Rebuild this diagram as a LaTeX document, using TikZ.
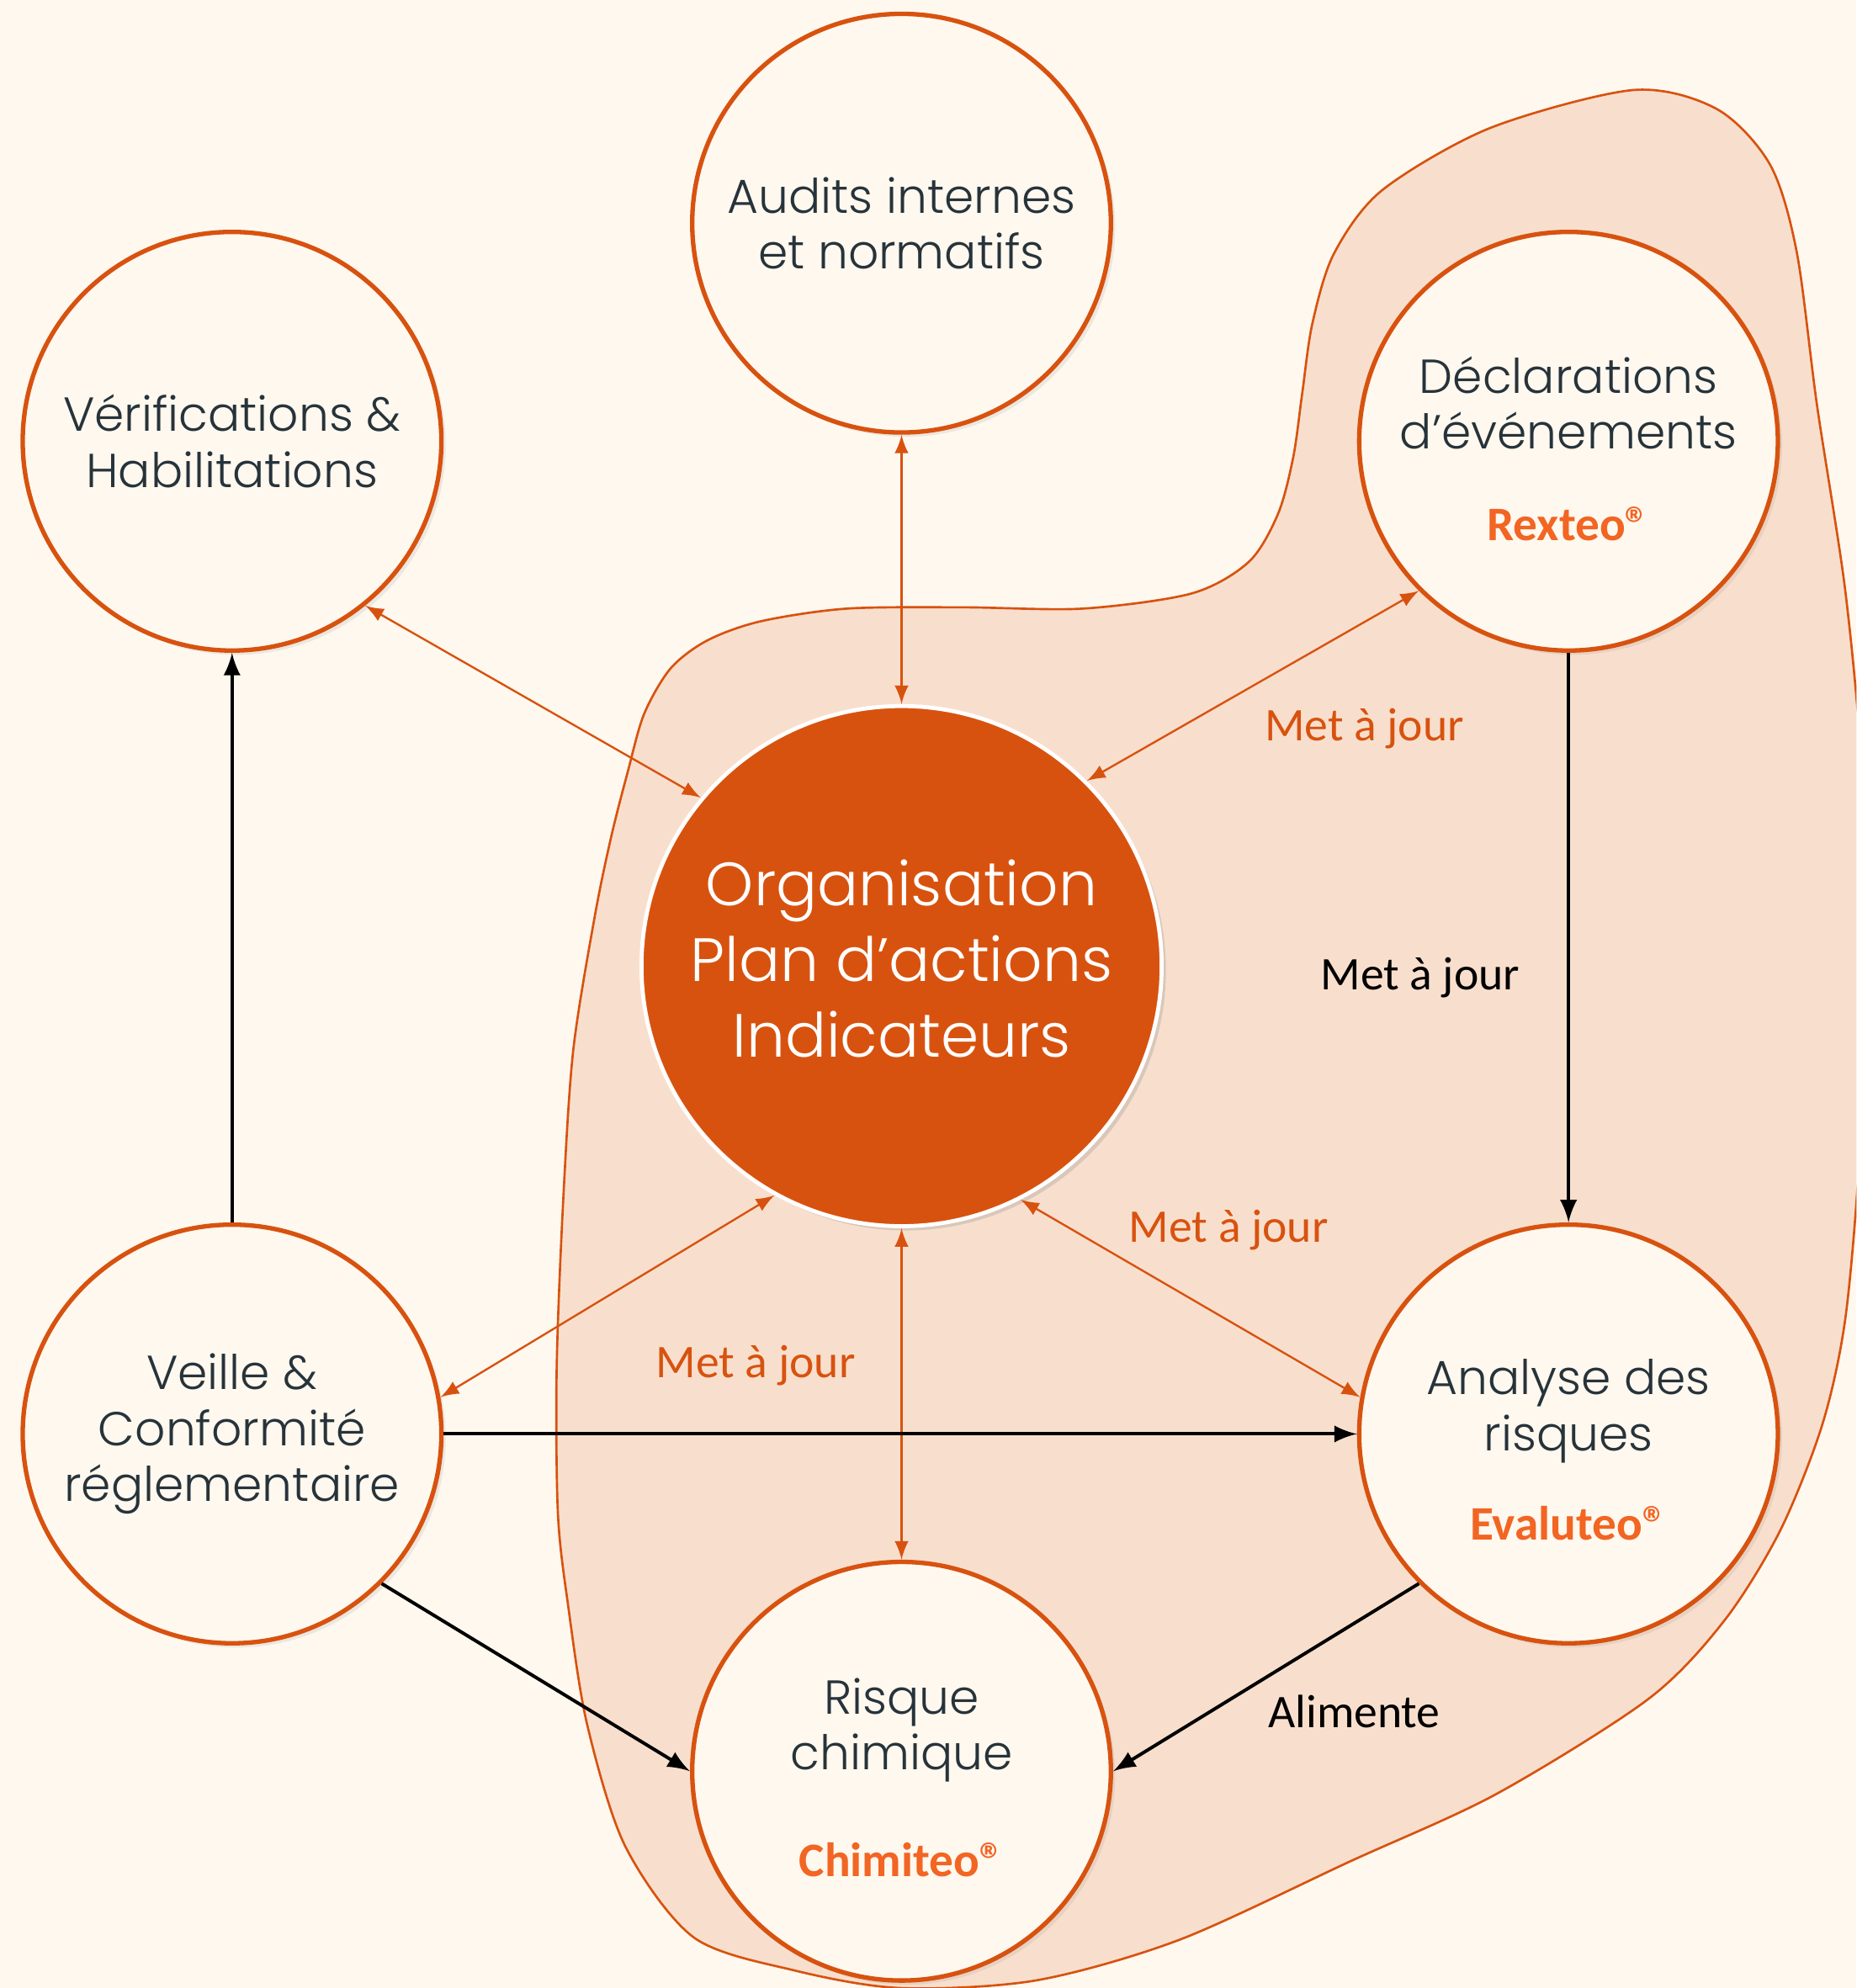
\documentclass[tikz,border=0pt]{standalone}
\usepackage{fontspec}
\usepackage{tikz}
\usetikzlibrary{shadows}
\usetikzlibrary{arrows,shapes}
\usetikzlibrary{calc}
\setmainfont{Carlito}
\newfontfamily\thinfont{Poppins Light}
\definecolor{cream}{HTML}{FEF8EF}
\definecolor{blobfill}{HTML}{F8DFCD}
\definecolor{rust}{HTML}{D8520F}
\definecolor{brandorange}{HTML}{F26522}
\definecolor{slate}{HTML}{27333A}
\tikzstyle{bubble}=[circle,draw=rust,line width=1pt,fill=cream,minimum size=3.3cm,inner sep=0pt,align=center,text=slate,font=\thinfont\fontsize{10.7}{12.5}\selectfont,drop shadow={opacity=0.14,shadow xshift=0.2ex,shadow yshift=-0.2ex}]
\tikzstyle{core}=[circle,draw=white,line width=0.9pt,fill=rust,minimum size=4.1cm,inner sep=0pt,align=center,text=white,font=\thinfont\fontsize{13.7}{17}\selectfont,drop shadow={opacity=0.25,shadow xshift=0.2ex,shadow yshift=-0.2ex}]
\tikzstyle{update} = [draw,line width=0.45pt,rust,latex-latex]
\tikzstyle{flow} = [draw,line width=0.75pt,black,-latex]
\tikzstyle{weight} = [font=\fontsize{10.5}{12.6}\selectfont]
\newcommand{\brand}[1]{{\fontspec{Carlito}\fontsize{10.8}{13}\selectfont\bfseries\color{brandorange}#1®}}

\begin{document}
\begin{tikzpicture}[x=0.01cm, y=-0.01cm]

    \useasboundingbox (0,0) rectangle (1464,1568);
    \clip (0,0) rectangle (1464,1568);
    \fill[cream] (0,0) rectangle (1464,1568);

    % zone des logiciels
    \draw[rust, line width=0.5pt, fill=blobfill] plot[smooth cycle, tension=0.5] coordinates {
        (668,480) (760,479) (854,480) (940,468) (985,443) (1008,405) (1020,360) (1027,310)
        (1035,255) (1052,200) (1090,150) (1175,101) (1288,71) (1354,86) (1396,130) (1417,199)
        (1433,320) (1455,464) (1468,600) (1474,750) (1466,920) (1455,1042) (1437,1124)
        (1404,1207) (1360,1278) (1300,1340) (1180,1415) (1065,1468) (930,1530) (817,1562)
        (710,1568) (626,1554) (547,1528) (493,1456) (463,1360) (448,1266) (440,1194)
        (439,1080) (444,950) (452,829) (469,723) (482,660) (495,609) (508,563) (529,527)
        (558,505) (600,490)};

    \node[core] (org) at (711,762) {Organisation\\Plan d’actions\\Indicateurs\rule[-3.4pt]{0pt}{3.4pt}};

    \node[bubble] (verif) at (183,348) {Vérifications \&\\Habilitations};
    \node[bubble] (audits) at (711,176) {Audits internes\\et normatifs};
    \node[bubble] (decl) at (1237,348) {\rule{0pt}{11.5pt}Déclarations\\d’événements\\[8pt]\brand{Rexteo}};
    \node[bubble] (veille) at (183,1131) {Veille \&\\Conformité\\réglementaire};
    \node[bubble] (analyse) at (1237,1131) {\rule{0pt}{15pt}Analyse des\\risques\\[7.5pt]\brand{Evaluteo}};
    \node[bubble] (chimie) at (711,1397) {\rule{0pt}{11pt}Risque\\chimique\\[11.5pt]\brand{Chimiteo}};

    \foreach \source/\dest in {verif.-51/org.140, audits.south/org.north, decl.-135/org.45,
                               veille.10/org.-119, org.-63/analyse.170, org.south/chimie.north}
        \path[update] (\source) -- (\dest);

    \foreach \source/\dest in {veille.north/verif.south, decl.south/analyse.north,
                               veille.east/analyse.west, veille.-45/chimie.west, analyse.-135/chimie.east}
        \path[flow] (\source) -- (\dest);

    \node[weight, text=rust] (majdecl) at (1076,575) {Met à jour};
    \node[weight] (majrisque) at (1120,771) {Met à jour};
    \node[weight, text=rust] (majanalyse) at (969,970) {Met à jour};
    \node[weight, text=rust] (majveille) at (596,1077) {Met à jour};
    \node[weight] (alimente) at (1068,1350) {Alimente};

\end{tikzpicture}
\end{document}
